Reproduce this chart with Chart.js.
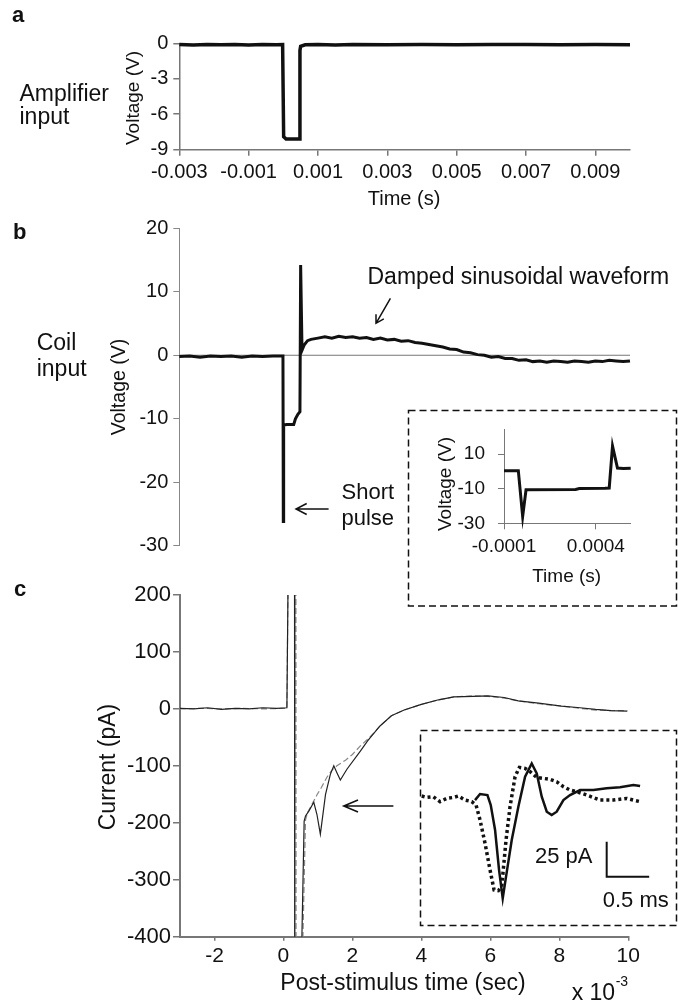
<!DOCTYPE html>
<html>
<head>
<meta charset="utf-8">
<script src="https://cdn.jsdelivr.net/npm/chart.js@4"></script>
<style>
  body { margin: 0; background: #fff; }
  #fig { position: relative; width: 678px; height: 1007px; overflow: hidden;
         font-family: "Liberation Sans", Arial, sans-serif; color: #111; }
  #fig canvas { position: absolute; }
  .t { position: absolute; white-space: nowrap; line-height: 1; }
  .c { transform: translateX(-50%); }
  .rot { transform: translate(-50%, -50%) rotate(-90deg); }
  .b { font-weight: bold; }
  svg { position: absolute; left: 0; top: 0; }
</style>
</head>
<body>
<div id="fig">
  <canvas id="chartA" width="678" height="215" style="left:0;top:0"></canvas>
  <canvas id="chartB" width="678" height="350" style="left:0;top:210px"></canvas>
  <canvas id="chartC" width="678" height="437" style="left:0;top:570px"></canvas>
  <canvas id="insetB" width="270" height="198" style="left:408px;top:409px"></canvas>
  <canvas id="insetC" width="259" height="198" style="left:419px;top:729px"></canvas>

  <svg width="678" height="1007" fill="none" stroke="#111">
    <rect x="408.5" y="410.5" width="268" height="195.5" stroke-width="1.5" stroke-dasharray="7 4"/>
    <rect x="420.5" y="730.5" width="256" height="195" stroke-width="1.5" stroke-dasharray="7 4"/>
    <path d="M390.4 298.3 L376 323.3 M383.8 318.8 L376 323.3 L376 314.3" stroke-width="1.5"/>
    <path d="M328.6 509 L296 509 M306.7 503.5 L296 509 L306.7 514.5" stroke-width="1.5"/>
    <path d="M393.4 806 L343.7 806 M358 800 L343.7 806 L358 812" stroke-width="1.5"/>
  </svg>

  <div class="t b" style="left:12px;top:4px;font-size:22px">a</div>
  <div class="t b" style="left:13px;top:221px;font-size:22px">b</div>
  <div class="t b" style="left:14px;top:578px;font-size:22px">c</div>

  <div class="t" style="left:19.5px;top:82.2px;font-size:23px">Amplifier</div>
  <div class="t" style="left:19.5px;top:104.5px;font-size:23px">input</div>
  <div class="t rot" style="left:131.7px;top:97.5px;font-size:19px">Voltage (V)</div>
  <div class="t c" style="left:404px;top:188px;font-size:20px">Time (s)</div>

  <div class="t" style="left:36.7px;top:331.2px;font-size:23px">Coil</div>
  <div class="t" style="left:36.7px;top:357px;font-size:23px">input</div>
  <div class="t rot" style="left:119px;top:386.7px;font-size:19.5px">Voltage (V)</div>
  <div class="t" style="left:367.5px;top:264.5px;font-size:23px">Damped sinusoidal waveform</div>
  <div class="t" style="left:341.5px;top:480.7px;font-size:22px">Short</div>
  <div class="t" style="left:341.5px;top:507.4px;font-size:22px">pulse</div>

  <div class="t rot" style="left:444px;top:484px;font-size:19px">Voltage (V)</div>
  <div class="t c" style="left:566.7px;top:565.6px;font-size:19px">Time (s)</div>

  <div class="t rot" style="left:107px;top:766.7px;font-size:23px">Current (pA)</div>
  <div class="t c" style="left:403px;top:970.5px;font-size:23px">Post-stimulus time (sec)</div>
  <div class="t" style="left:571.7px;top:980.5px;font-size:23px">x 10</div>
  <div class="t" style="left:615.7px;top:974px;font-size:14px">-3</div>
  <div class="t" style="left:535px;top:844.7px;font-size:22px">25 pA</div>
  <div class="t" style="left:602.7px;top:888.7px;font-size:22px">0.5 ms</div>
</div>

<script>
// ---- panel a: amplifier input (s, V)
const timeA = [-0.003, -0.0026, -0.0022, -0.0018, -0.0014, -0.001, -0.0006, -0.0002, -0.00002,
  0.00001, 0.00008, 0.0003, 0.00046, 0.00048, 0.0005, 0.00063, 0.001, 0.0015, 0.002, 0.003,
  0.004, 0.005, 0.006, 0.007, 0.008, 0.009, 0.010];
const voltA = [-0.1, -0.15, -0.1, -0.12, -0.1, -0.15, -0.1, -0.12, -0.1,
  -7.9, -8.1, -8.1, -8.1, -0.6, -0.25, -0.12, -0.1, -0.15, -0.1, -0.12,
  -0.1, -0.12, -0.1, -0.1, -0.12, -0.1, -0.12];
const xTicksA = [-0.003, -0.001, 0.001, 0.003, 0.005, 0.007, 0.009];
const xLabelsA = ['-0.003', '-0.001', '0.001', '0.003', '0.005', '0.007', '0.009'];

// ---- panel b: coil input (s, V)
const timeB = [-0.003, -0.0027, -0.0024, -0.0021, -0.0018, -0.0015, -0.0012, -0.0009, -0.0006,
  -0.0003, -0.00001, 0, 0.00001, 0.0001, 0.0002, 0.0003, 0.00035, 0.00042, 0.00048, 0.0005,
  0.00054, 0.0006, 0.0007,
  0.0008, 0.0010, 0.0012, 0.0014, 0.0016, 0.0018, 0.0020, 0.0022, 0.0024, 0.0026,
  0.0028, 0.0030, 0.0032, 0.0034, 0.0036, 0.0038, 0.0040, 0.0042, 0.0044, 0.0046,
  0.0048, 0.0050, 0.0052, 0.0054, 0.0056, 0.0058, 0.0060, 0.0062, 0.0064, 0.0066,
  0.0068, 0.0070, 0.0072, 0.0074, 0.0076, 0.0078, 0.0080, 0.0082, 0.0084, 0.0086,
  0.0088, 0.0090, 0.0092, 0.0094, 0.0096, 0.0098, 0.0100];
const voltB = [-0.2, -0.1, -0.3, -0.1, -0.2, -0.1, -0.3, -0.1, -0.2,
  -0.1, -0.1, -26.2, -11, -10.9, -10.9, -10.9, -10.0, -9.3, -8.9, 14.2,
  0.8, 1.6, 2.3,
  2.5, 2.7, 2.9, 2.7, 3.0, 2.8, 2.9, 2.7, 2.8, 2.5,
  2.7, 2.4, 2.5, 2.2, 2.3, 2.0, 1.9, 1.7, 1.5, 1.3,
  1.0, 0.9, 0.5, 0.4, 0.1, 0.0, -0.3, -0.2, -0.5, -0.5,
  -0.8, -0.7, -1.0, -0.9, -1.1, -0.9, -1.0, -1.1, -0.9, -1.0,
  -1.1, -0.9, -1.0, -0.8, -0.9, -1.0, -0.9];
const zeroLineB = [-0.003, 0.010];

// ---- panel b inset (s, V)
const timeBi = [-0.0001, -0.000022, 0.0000016, 0.00002, 0.00029, 0.00031, 0.00045, 0.000473,
  0.000491, 0.000518, 0.00055, 0.00059];
const voltBi = [0.4, 0.4, -26, -10.6, -10.5, -9.9, -9.8, -9.6, 14.6, 1.9, 1.6, 1.8];
const yTicksBi = [-30, -10, 10];
const xTicksBi = [-0.0001, 0.0004];
const xLabelsBi = ['-0.0001', '0.0004'];

// ---- panel c: current (ms, pA), solid and dashed traces
const timeC1 = [-3, -2.6, -2.2, -1.8, -1.4, -1, -0.6, -0.2, 0.1, 0.16, 0.32, 0.33, 0.52, 0.535,
  0.6, 0.64, 0.74, 0.88, 0.97, 1.07, 1.22, 1.36, 1.46, 1.55, 1.65, 1.84, 2.23, 2.44, 2.8,
  3.13, 3.5, 4.0, 4.5, 4.94, 5.5, 5.93, 6.4, 6.81, 7.4, 8.06, 8.6, 9.05, 9.5, 9.97];
const currC1 = [1, 0, 2, -1, 1, 0, 2, 1, 2, 400, 400, -1000, -1000, -400,
  -197, -188, -179, -164, -185, -220, -150, -115, -100, -112, -125, -106, -74, -56, -30,
  -12, -2, 8, 16, 21, 22, 23, 20, 14, 10, 5, 2, -1, -3, -4];
const timeC2 = [-3, -2.4, -1.8, -1.2, -0.6, 0.1, 0.16, 0.36, 0.37, 0.55, 0.565,
  0.64, 0.7, 0.85, 0.98, 1.1, 1.26, 1.4, 1.55, 1.8, 2.0, 2.23, 2.5, 2.8, 3.13, 3.5,
  4.0, 4.5, 4.94, 5.5, 5.93, 6.4, 6.81, 7.4, 8.06, 8.6, 9.05, 9.5, 9.97];
const currC2 = [0, 1, 0, 1, 0, 1, 400, 400, -1000, -1000, -400,
  -195, -182, -165, -150, -138, -120, -108, -100, -90, -80, -65, -50, -30, -12, -2,
  8, 16, 21, 23, 22, 19, 14, 9, 5, 1, -2, -3, -3];
const xTicksC = [-2, 0, 2, 4, 6, 8, 10];

// ---- panel c inset (ms, pA)
const timeCi1 = [0.627, 0.686, 0.773, 0.812, 0.863, 0.91, 0.953, 0.992, 1.059, 1.137, 1.216,
  1.294, 1.353, 1.412, 1.471, 1.529, 1.588, 1.667, 1.745, 1.863, 2.02, 2.176, 2.333, 2.49, 2.569];
const currCi1 = [-2.9, 1.4, 0.7, -6.4, -24.3, -52.9, -73.1, -57.6, -31.4, -7.6, 13.8,
  23.3, 16.2, -0.5, -11.2, -13.6, -11.2, -2.9, 0.7, 4.3, 4.3, 5.5, 6.2, 7.9, 7.1];
const timeCi2 = [0, 0.059, 0.137, 0.216, 0.294, 0.373, 0.431, 0.51, 0.588, 0.639, 0.686, 0.745,
  0.804, 0.851, 0.902, 0.941, 0.992, 1.039, 1.098, 1.149, 1.216, 1.275, 1.353, 1.431, 1.51,
  1.588, 1.667, 1.745, 1.824, 1.941, 2.098, 2.255, 2.412, 2.49, 2.569];
const currCi2 = [0, -1, -0.5, -4, -1.7, -1, 0, -2.9, -4, -6.4, -17.1, -33.8,
  -52.9, -67.1, -67.6, -64.8, -31.4, -7.6, 13.8, 20.5, 19.8, 17.4, 13.3, 12.6, 11.9,
  10.2, 6.7, 4.3, 3.1, 0.7, -2.9, -2.9, -1.7, -2.9, -4];
const scaleBarT = [2.176, 2.176, 2.676];
const scaleBarI = [-32.6, -57.6, -57.6];

Chart.defaults.font.family = '"Liberation Sans", Arial, sans-serif';
Chart.defaults.color = '#111';
Chart.defaults.animation = false;
Chart.defaults.plugins.legend.display = false;
Chart.defaults.plugins.tooltip.enabled = false;

const pts = (xs, ys) => xs.map((x, i) => ({ x: x, y: ys[i] }));

// fixes the room an axis takes, so the plot area lands where the figure has it
function axisFix(w, h) {
  return function (s) {
    if (w !== undefined) s.width = w;
    if (h !== undefined) s.height = h;
    s.paddingLeft = 0; s.paddingRight = 0; s.paddingTop = 0; s.paddingBottom = 0;
  };
}
function setTicks(values) {
  return function (s) { s.ticks = values.map(v => ({ value: v })); };
}
function line(data, color, width, extra) {
  return Object.assign({ data: data, borderColor: color, borderWidth: width, pointRadius: 0,
    tension: 0, fill: false }, extra || {});
}

new Chart(document.getElementById('chartA'), {
  type: 'line',
  data: { datasets: [line(pts(timeA, voltA), '#111', 3.5, { clip: 6 })] },
  options: {
    responsive: false,
    layout: { autoPadding: false, padding: { left: 119.3, right: 48, top: 43.3, bottom: 25.3 } },
    scales: {
      x: {
        type: 'linear', min: -0.003, max: 0.010,
        afterBuildTicks: setTicks(xTicksA), afterFit: axisFix(undefined, 40),
        ticks: { callback: (v, i) => xLabelsA[i], font: { size: 20 }, padding: 5, maxRotation: 0, autoSkip: false },
        grid: { drawOnChartArea: false, tickLength: 6, color: '#777', lineWidth: 1.5 },
        border: { color: '#777', width: 1.5 }
      },
      y: {
        min: -9, max: 0, afterFit: axisFix(60),
        ticks: { stepSize: 3, font: { size: 20 }, padding: 5 },
        grid: { drawOnChartArea: false, tickLength: 6, color: '#777', lineWidth: 1.5 },
        border: { color: '#777', width: 1.5 }
      }
    }
  }
});

new Chart(document.getElementById('chartB'), {
  type: 'line',
  data: { datasets: [
    line(pts(timeB, voltB), '#111', 3, { clip: 6 }),
    line(pts(zeroLineB, [0, 0]), '#777', 1)
  ] },
  options: {
    responsive: false,
    layout: { autoPadding: false, padding: { left: 119.3, right: 48, top: 18.3, bottom: 14.3 } },
    scales: {
      x: { type: 'linear', min: -0.003, max: 0.010, display: false },
      y: {
        min: -30, max: 20, afterFit: axisFix(60),
        ticks: { stepSize: 10, font: { size: 20 }, padding: 5 },
        grid: { drawOnChartArea: false, tickLength: 6, color: '#888', lineWidth: 1 },
        border: { color: '#888', width: 1 }
      }
    }
  }
});

new Chart(document.getElementById('insetB'), {
  type: 'line',
  data: { datasets: [line(pts(timeBi, voltBi), '#111', 3, { clip: 6 })] },
  options: {
    responsive: false,
    layout: { autoPadding: false, padding: { left: 46, right: 47.3, top: 20.3, bottom: 53.7 } },
    scales: {
      x: {
        type: 'linear', min: -0.0001, max: 0.00059,
        afterBuildTicks: setTicks(xTicksBi), afterFit: axisFix(undefined, 30),
        ticks: { callback: (v, i) => xLabelsBi[i], font: { size: 19 }, padding: 6, maxRotation: 0, autoSkip: false },
        grid: { drawOnChartArea: false, tickLength: 6, color: '#777', lineWidth: 1 },
        border: { color: '#777', width: 1 }
      },
      y: {
        min: -30, max: 24.3,
        afterBuildTicks: setTicks(yTicksBi), afterFit: axisFix(50),
        ticks: { font: { size: 19 }, padding: 13 },
        grid: { drawOnChartArea: false, tickLength: 6, color: '#777', lineWidth: 1 },
        border: { color: '#777', width: 1 }
      }
    }
  }
});

new Chart(document.getElementById('chartC'), {
  type: 'line',
  data: { datasets: [
    line(pts(timeC1, currC1), '#222', 1.2),
    line(pts(timeC2, currC2), '#888', 1.2, { borderDash: [6, 3] })
  ] },
  options: {
    responsive: false,
    layout: { autoPadding: false, padding: { left: 115, right: 49.7, top: 25, bottom: 25.3 } },
    scales: {
      x: {
        type: 'linear', min: -3, max: 10,
        afterBuildTicks: setTicks(xTicksC), afterFit: axisFix(undefined, 45),
        ticks: { font: { size: 21 }, padding: 3, maxRotation: 0, autoSkip: false },
        grid: { drawOnChartArea: false, tickLength: 4, color: '#777', lineWidth: 1.5 },
        border: { color: '#777', width: 2 }
      },
      y: {
        min: -400, max: 200, afterFit: axisFix(65),
        ticks: { stepSize: 100, font: { size: 22 }, padding: 2 },
        grid: { drawOnChartArea: false, tickLength: 7, color: '#777', lineWidth: 1.5 },
        border: { color: '#777', width: 2 }
      }
    }
  }
});

new Chart(document.getElementById('insetC'), {
  type: 'line',
  data: { datasets: [
    line(pts(timeCi1, currCi1), '#111', 2.5),
    line(pts(timeCi2, currCi2), '#111', 3.5, { borderDash: [3, 3] }),
    line(pts(scaleBarT, scaleBarI), '#111', 2)
  ] },
  options: {
    responsive: false,
    layout: { autoPadding: false, padding: 0 },
    scales: {
      x: { type: 'linear', min: -0.032, max: 3.015, display: false },
      y: { min: -93.6, max: 47.9, display: false }
    }
  }
});
</script>
</body>
</html>
